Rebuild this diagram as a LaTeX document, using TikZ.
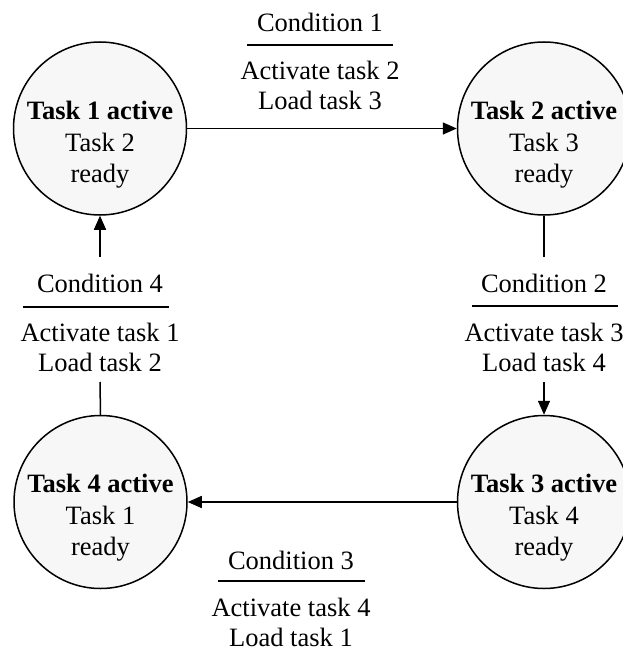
\documentclass[tikz,border=0pt]{standalone}
\usepackage{fontspec}
\setmainfont{Liberation Serif}
\usetikzlibrary{arrows.meta}
\begin{document}
\begin{tikzpicture}[x=1pt,y=-1pt,
  state/.style={circle,draw,line width=1.5pt,fill=black!3,minimum size=173pt,inner sep=0pt},
  txt/.style={font=\fontsize{26.5}{30}\selectfont,align=center,inner sep=0pt},
  stxt/.style={font=\fontsize{26.5}{31.5}\selectfont,align=center,inner sep=0pt},
  conn/.style={line width=1.5pt},
  arr/.style={conn,-{Triangle[length=14pt,width=12pt]}},
  bar/.style={line width=1.6pt}]
\useasboundingbox (0,0) rectangle (622,652);

% states
\node[state] (t1) at (100,128.5) {};
\node[state] (t2) at (544,128.5) {};
\node[state] (t3) at (544,502) {};
\node[state] (t4) at (100.5,502) {};

\node[stxt] (t1t) at (100,145) {\textbf{Task 1 active}\\Task 2\\ready};
\node[stxt] (t2t) at (544,145) {\textbf{Task 2 active}\\Task 3\\ready};
\node[stxt] (t3t) at (544,518) {\textbf{Task 3 active}\\Task 4\\ready};
\node[stxt] (t4t) at (100.5,518) {\textbf{Task 4 active}\\Task 1\\ready};

% transition 1 -> 2
\node[txt] (c1) at (320,22) {Condition 1};
\node[txt] (a1) at (320,85) {Activate task 2\\Load task 3};
\coordinate (r1a) at (247,45);
\coordinate (r1b) at (393,45);
\draw[bar] (r1a) -- (r1b);
\draw[arr] (t1.east) -- (t2.west);

% transition 2 -> 3
\node[txt] (c2) at (544,283) {Condition 2};
\node[txt] (a2) at (544,347) {Activate task 3\\Load task 4};
\coordinate (r2a) at (472,306);
\coordinate (r2b) at (618,306);
\draw[bar] (r2a) -- (r2b);
\coordinate (c2top) at (544,257);
\coordinate (a2bot) at (544,382);
\draw[conn] (t2.south) -- (c2top);
\draw[arr] (a2bot) -- (t3.north);

% transition 3 -> 4
\node[txt] (c3) at (291,560) {Condition 3};
\node[txt] (a3) at (291,622.5) {Activate task 4\\Load task 1};
\coordinate (r3a) at (218,581);
\coordinate (r3b) at (365,581);
\draw[bar] (r3a) -- (r3b);
\draw[arr] (t3.west) -- (t4.east);

% transition 4 -> 1
\node[txt] (c4) at (100,283) {Condition 4};
\node[txt] (a4) at (100,347) {Activate task 1\\Load task 2};
\coordinate (r4a) at (23,307);
\coordinate (r4b) at (169,307);
\draw[bar] (r4a) -- (r4b);
\coordinate (a4bot) at (100,382);
\coordinate (c4top) at (100,257);
\draw[conn] (t4.north) -- (a4bot);
\draw[arr] (c4top) -- (t1.south);
\end{tikzpicture}
\end{document}
